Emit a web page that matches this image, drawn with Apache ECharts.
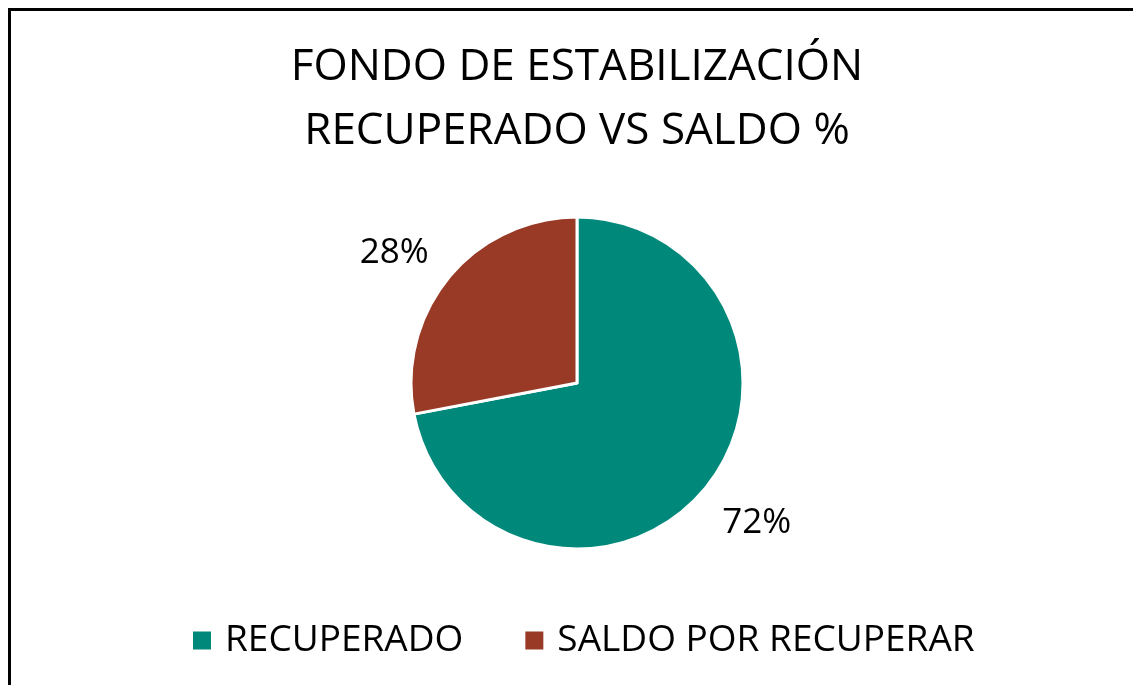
<!DOCTYPE html>
<html lang="es">
<head>
  <meta charset="utf-8" />
  <title>Fondo de estabilización</title>
  <script src="https://cdn.jsdelivr.net/npm/echarts@6/dist/echarts.min.js"></script>
  <style>
    html, body { margin: 0; padding: 0; background: #fff; }
    #marco { position: absolute; left: 8px; top: 8px; width: 1125px; height: 677px;
             border-top: 3px solid #000; border-left: 3px solid #000; box-sizing: border-box; }
    #grafico { position: absolute; left: 0; top: 0; width: 1133px; height: 685px; }
  </style>
</head>
<body>
  <div id="marco"></div>
  <div id="grafico"></div>
  <script>
    // datos del grafico
    var categorias = ['RECUPERADO', 'SALDO POR RECUPERAR'];
    var valores = [72, 28];
    var colores = ['#00897b', '#983a26'];
    var titulo = 'FONDO DE ESTABILIZACIÓN\nRECUPERADO VS SALDO %';

    var fuente = '"Open Sans", "Noto Sans", sans-serif';
    var chart = echarts.init(document.getElementById('grafico'));

    var datos = [];
    for (let i = 0; i < categorias.length; i++) {
      datos.push({ name: categorias[i], value: valores[i], itemStyle: { color: colores[i] } });
    }
    // anillo invisible solo para colocar las etiquetas de porcentaje
    var datosEtiq = [
      { name: categorias[0], value: valores[0], label: { offset: [4, -5] } },
      { name: categorias[1], value: valores[1], label: { offset: [-7, 15] } }
    ];

    var option = {
      animation: false,
      title: {
        text: titulo,
        left: 572, top: 30, textAlign: 'center',
        textStyle: { fontFamily: fuente, fontSize: 44, fontWeight: 'normal', color: '#000', lineHeight: 64 }
      },
      legend: {
        data: categorias,
        left: 186, top: 617,
        icon: 'rect', itemWidth: 20, itemHeight: 20, itemGap: 60,
        textStyle: { fontFamily: fuente, fontSize: 37, color: '#000', padding: [0, 0, 0, 8] }
      },
      series: [{
        type: 'pie',
        center: [577, 383],
        radius: 166,
        startAngle: 90,
        clockwise: true,
        itemStyle: { borderColor: '#fff', borderWidth: 3 },
        label: { show: false },
        labelLine: { show: false },
        emphasis: { disabled: true },
        data: datos
      }, {
        type: 'pie',
        center: [577, 383],
        radius: [200, 250],
        startAngle: 90,
        clockwise: true,
        silent: true,
        legendHoverLink: false,
        percentPrecision: 0,
        itemStyle: { color: 'rgba(0,0,0,0)' },
        label: {
          show: true, position: 'inside', formatter: '{d}%',
          fontFamily: fuente, fontSize: 35, color: '#000'
        },
        labelLine: { show: false },
        emphasis: { disabled: true },
        data: datosEtiq
      }]
    };
    chart.setOption(option);
  </script>
</body>
</html>
